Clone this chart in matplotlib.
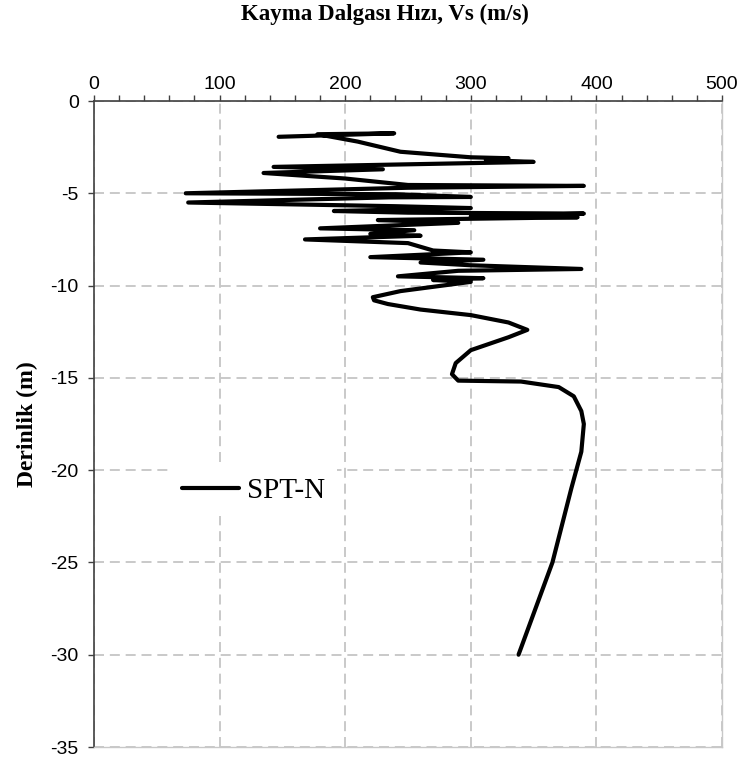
import numpy as np
import matplotlib.pyplot as plt
from matplotlib.ticker import MultipleLocator

plt.rcParams['axes.unicode_minus'] = False

# Vs profile (m/s) against depth (m)
depth = [1.94, 1.75, 1.80, 2.20, 2.75, 3.05, 3.10, 3.20, 3.30, 3.57,
         3.70, 3.90, 4.20, 4.55, 4.60, 4.70, 5.00, 5.05, 5.20, 5.22,
         5.50, 5.70, 5.80, 5.96, 6.05, 6.10, 6.25, 6.30, 6.45, 6.60,
         6.90, 7.00, 7.20, 7.30, 7.50, 7.70, 8.10, 8.20, 8.30, 8.46,
         8.60, 8.75, 8.90, 9.10, 9.20, 9.50, 9.60, 9.70, 9.80, 10.30,
         10.63, 10.80, 11.00, 11.30, 11.60, 12.00, 12.40, 12.80, 13.50, 14.20,
         14.80, 15.15, 15.20, 15.50, 16.00, 16.80, 17.50, 19.00, 21.00, 25.00,
         30.00]
vs = [147, 239, 178, 210, 244, 300, 330, 312, 350, 143,
      230, 135, 200, 250, 390, 250, 73, 240, 300, 235,
      75, 240, 300, 191, 250, 390, 300, 385, 226, 290,
      180, 255, 220, 260, 168, 250, 270, 300, 270, 220,
      310, 260, 300, 388, 290, 242, 310, 270, 300, 244,
      222, 223, 234, 260, 300, 330, 345, 330, 300, 288,
      285, 290, 340, 370, 382, 388, 390, 388, 380, 365,
      338]

x_ticks = [0, 100, 200, 300, 400, 500]
y_ticks = [0, -5, -10, -15, -20, -25, -30, -35]

fig = plt.figure(figsize=(7.41, 7.60), dpi=100)
ax = fig.add_axes([94 / 741, 1 - 747 / 760, 628 / 741, 646 / 760])

ax.plot(vs, -np.array(depth), color='black', lw=3, solid_joinstyle='round',
        solid_capstyle='round', label='SPT-N')

ax.set_xlim(0, 500)
ax.set_ylim(-35, 0)
ax.xaxis.tick_top()
ax.set_xticks(x_ticks)
ax.set_yticks(y_ticks)
ax.xaxis.set_minor_locator(MultipleLocator(20))
ax.grid(True, which='major', color='#c0c0c0', linestyle=(0, (6, 3.5)), lw=1.2)
ax.set_axisbelow(True)

for side in ['left', 'top']:
    ax.spines[side].set_color('#404040')
    ax.spines[side].set_linewidth(1.2)
for side in ['right', 'bottom']:
    ax.spines[side].set_color('#c8c8c8')
    ax.spines[side].set_linewidth(1)

ax.tick_params(axis='x', which='major', direction='out', length=4, width=1,
               color='#404040', pad=2, labelsize=14)
ax.tick_params(axis='x', which='minor', direction='out', length=4, width=1,
               color='#404040')
ax.tick_params(axis='y', direction='out', length=4, width=1, color='#404040',
               pad=7, labelsize=14)
for lbl in ax.get_xticklabels() + ax.get_yticklabels():
    lbl.set_family('Liberation Sans')

fig.text(0.52, 1 - 14 / 760, 'Kayma Dalgası Hızı, Vs (m/s)', ha='center',
         va='center', family='Liberation Serif', weight='bold', fontsize=16.5)
ax.set_ylabel('Derinlik (m)', family='Liberation Serif', weight='bold',
              fontsize=17, labelpad=9)

leg = ax.legend(loc='center', bbox_to_anchor=(0.254, 0.396), frameon=True,
                fancybox=False, edgecolor='none', facecolor='white',
                framealpha=1, handlelength=1.95, handletextpad=0.28,
                prop={'family': 'Liberation Serif', 'size': 21})

fig.savefig('out.png', dpi=100)
